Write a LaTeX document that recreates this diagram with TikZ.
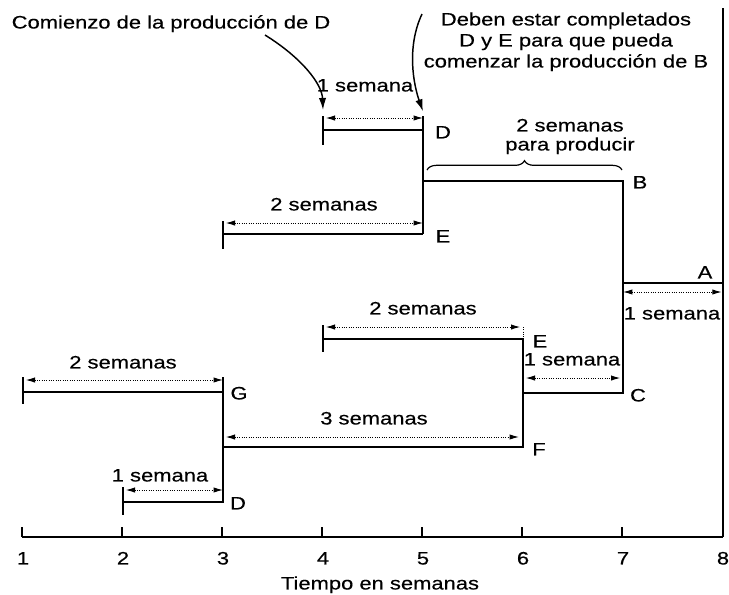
\documentclass[tikz,border=0pt]{standalone}
\usepackage{fontspec}
\setmainfont{Liberation Sans}[FakeStretch=1.22,FakeBold=0.35]
\usetikzlibrary{arrows.meta,decorations.pathreplacing}
\begin{document}
\begin{tikzpicture}[x=0.75pt,y=-0.75pt,
  bar/.style={line width=1.4pt},
  dimline/.style={line width=0.75pt, densely dotted, {Latex[length=7pt,width=4pt]}-{Latex[length=7pt,width=4pt]}},
  lbl/.style={font=\fontsize{13.5}{15.5}\selectfont, inner sep=0pt, text height=9.7pt, text depth=0pt},
  callout/.style={line width=1.1pt, -{Latex[length=9pt,width=5.5pt]}}]
\useasboundingbox (0,0) rectangle (729,594);

% ---------- named points ----------
% D (top)
\coordinate (Dt0) at (323,130); \coordinate (Dt1) at (423,130);
\coordinate (Dta) at (323,118); \coordinate (Dtb) at (423,118);
% E (top)
\coordinate (Et0) at (223,234); \coordinate (Et1) at (423,234);
\coordinate (Eta) at (223,223); \coordinate (Etb) at (423,223);
% B
\coordinate (B0) at (423,181); \coordinate (B1) at (623,181);
% A
\coordinate (A0) at (623,283); \coordinate (A1) at (723,283);
\coordinate (Aa) at (623,292); \coordinate (Ab) at (723,292);
% E (middle)
\coordinate (Em0) at (323,339); \coordinate (Em1) at (523,339);
\coordinate (Ema) at (323,327); \coordinate (Emb) at (523,327);
% C
\coordinate (C0) at (523,393); \coordinate (C1) at (623,393);
\coordinate (Ca) at (523,378); \coordinate (Cb) at (623,378);
% G
\coordinate (G0) at (23,392); \coordinate (G1) at (223,392);
\coordinate (Ga) at (23,380); \coordinate (Gb) at (223,380);
% F
\coordinate (F0) at (223,447); \coordinate (F1) at (523,447);
\coordinate (Fa) at (223,437); \coordinate (Fb) at (523,437);
% D (low)
\coordinate (Dl0) at (123,502); \coordinate (Dl1) at (223,502);
\coordinate (Dla) at (123,490); \coordinate (Dlb) at (223,490);
% axis
\coordinate (ax0) at (22,537); \coordinate (ax1) at (723,537);
\coordinate (top8) at (723,8);

% ---------- bars ----------
\draw[bar] ([yshift=1.5]Dta) -- ([yshift=-11]Dt0);
\draw[bar] (Dt0) -- (Dt1);
\draw[bar] ([yshift=1.5]Dtb) -- (Et1);
\draw[dimline] ([xshift=2]Dta) -- (Dtb);

\draw[bar] ([yshift=1.5]Eta) -- ([yshift=-11]Et0);
\draw[bar] (Et0) -- (Et1);
\draw[dimline] ([xshift=2]Eta) -- (Etb);

\draw[bar] (B0) -- (B1) -- (C1) -- (C0);
\draw[decorate, decoration={brace, amplitude=7, aspect=0.5}, line width=0.9pt]
  (427,170) -- (622,170);

\draw[bar] (A0) -- (A1);
\draw[dimline] (Aa) -- ([xshift=-1]Ab);
\draw[bar] (top8) -- (ax1);

\draw[bar] ([yshift=1.5]Ema) -- ([yshift=-10]Em0);
\draw[bar] (Em0) -- (Em1);
\draw[dimline] ([xshift=2]Ema) -- ([xshift=-2]Emb);
\draw[line width=0.7pt, densely dotted] (Emb) -- (Em1);
\draw[bar] (Em1) -- (F1) -- (F0);
\draw[dimline] ([xshift=2]Ca) -- ([xshift=-2]Cb);

\draw[bar] ([yshift=2]Ga) -- ([yshift=-9]G0);
\draw[bar] (G0) -- (G1);
\draw[bar] ([yshift=2]Gb) -- (Dl1) -- (Dl0);
\draw[dimline] ([xshift=2]Ga) -- (Gb);
\draw[dimline] ([xshift=2]Fa) -- ([xshift=-3]Fb);

\draw[bar] ([yshift=2]Dla) -- ([yshift=-10]Dl0);
\draw[dimline] ([xshift=2]Dla) -- (Dlb);

% ---------- axis ----------
\draw[bar] (ax0) -- (ax1);
\foreach \i/\t in {0/1,1/2,2/3,3/4,4/5,5/6,6/7} {
  \coordinate (tk\i) at (22+100*\i,537);
  \draw[bar] (tk\i) -- ++(0,-10);
  \node[lbl] (tl\i) at (23+100*\i,558) {\t};
}
\node[lbl] (tl7) at (723,558) {8};
\node[lbl] (xt) at (380,583) {Tiempo en semanas};

% ---------- letters ----------
\node[lbl] (lD1) at (443,132) {D};
\node[lbl] (lB)  at (640,182) {B};
\node[lbl] (lE1) at (443,236) {E};
\node[lbl] (lA)  at (705,272) {A};
\node[lbl] (lE2) at (540,341) {E};
\node[lbl] (lC)  at (638,395) {C};
\node[lbl] (lG)  at (239,393) {G};
\node[lbl] (lF)  at (539,449) {F};
\node[lbl] (lD2) at (238,503) {D};

% ---------- durations ----------
\node[lbl] (w1) at (365,85)  {1 semana};
\node[lbl] (w2) at (570,125) {2 semanas};
\node[lbl] (w2b) at (570,144) {para producir};
\node[lbl] (w3) at (324,204) {2 semanas};
\node[lbl] (w4) at (672,313) {1 semana};
\node[lbl] (w5) at (423,308) {2 semanas};
\node[lbl] (w6) at (572,359) {1 semana};
\node[lbl] (w7) at (123,362) {2 semanas};
\node[lbl] (w8) at (374,418) {3 semanas};
\node[lbl] (w9) at (160,475) {1 semana};

% ---------- callouts ----------
\node[lbl] (c1) at (171,22) {Comienzo de la producción de D};
\node[lbl] (c2a) at (566,19) {Deben estar completados};
\node[lbl] (c2b) at (566,40) {D y E para que pueda};
\node[lbl] (c2c) at (566,61) {comenzar la producción de B};
\coordinate (a1s) at (265,35);
\coordinate (a2s) at (422,14);
\draw[callout] (a1s) .. controls (302,58) and (322,84) .. ([yshift=6]Dta);
\draw[callout] (a2s) .. controls (406,48) and (414,86) .. ([yshift=5]Dtb);
\end{tikzpicture}
\end{document}
